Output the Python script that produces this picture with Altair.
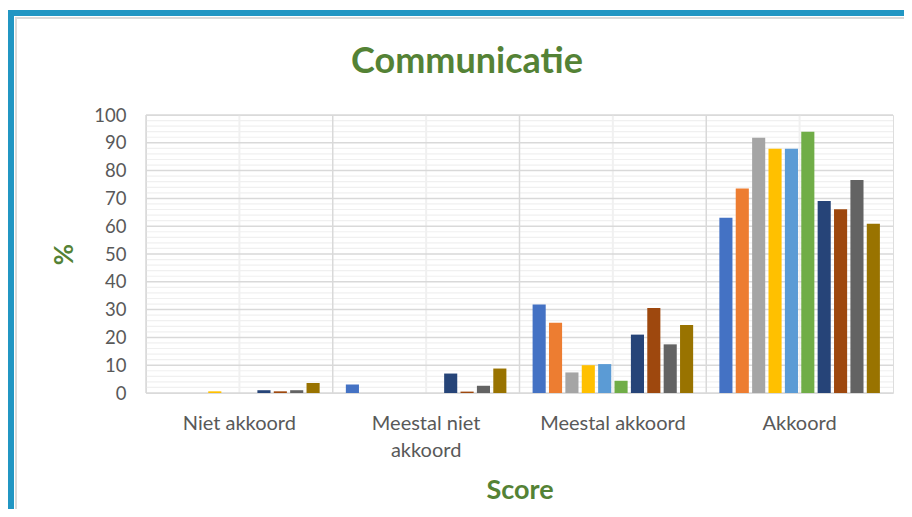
import altair as alt
import pandas as pd

categories = ["Niet akkoord", "Meestal niet akkoord", "Meestal akkoord", "Akkoord"]
series = ["Reeks 1", "Reeks 2", "Reeks 3", "Reeks 4", "Reeks 5",
          "Reeks 6", "Reeks 7", "Reeks 8", "Reeks 9", "Reeks 10"]
colors = ["#4472C4", "#ED7D31", "#A5A5A5", "#FFC000", "#5B9BD5",
          "#70AD47", "#264478", "#9E480E", "#636363", "#997300"]

niet_akkoord = [0, 0, 0, 0.6, 0, 0, 1.0, 0.6, 1.0, 3.6]
meestal_niet_akkoord = [3.1, 0, 0, 0, 0, 0, 7.0, 0.5, 2.6, 8.8]
meestal_akkoord = [31.8, 25.3, 7.4, 10.0, 10.4, 4.4, 21.0, 30.6, 17.5, 24.5]
akkoord = [63.0, 73.6, 91.8, 87.9, 87.9, 94.0, 69.1, 66.1, 76.6, 60.9]

y_ticks = [0, 10, 20, 30, 40, 50, 60, 70, 80, 90, 100]
y_minor = [v for v in range(2, 100, 2) if v % 10 != 0]
chart_title = "Communicatie"

rows = []
for cat, vals in zip(categories, [niet_akkoord, meestal_niet_akkoord, meestal_akkoord, akkoord]):
    for s, v in zip(series, vals):
        rows.append({"cat": cat, "serie": s, "val": v})
df = pd.DataFrame(rows)
cat_df = pd.DataFrame({"cat": categories})
major_df = pd.DataFrame({"y": y_ticks})
minor_df = pd.DataFrame({"y": y_minor})

FONT = "Lato"
GREEN = "#548235"
GRID = "#D9D9D9"
LIGHT = "#F0F0F0"

xscale = alt.Scale(domain=categories, paddingInner=0, paddingOuter=0)
yscale = alt.Scale(domain=[0, 100], nice=False)

x_axis = alt.Axis(
    title="Score", titleFontSize=27, titleFont=FONT, titleFontWeight="bold",
    titleColor=GREEN, titlePadding=17,
    labelFontSize=20, labelFont=FONT, labelColor="#595959", labelAngle=0,
    labelPadding=20, labelLineHeight=27, ticks=False, domain=False, grid=False,
    labelExpr="datum.label == 'Meestal niet akkoord' ? ['Meestal niet', 'akkoord'] : datum.label",
)
y_axis = alt.Axis(
    title="%", titleFontSize=26, titleFont=FONT, titleFontWeight="bold",
    titleColor=GREEN, titlePadding=16,
    values=y_ticks, labelFontSize=18.5, labelFont=FONT, labelColor="#595959",
    labelPadding=20, ticks=False, domain=False, grid=False, labelOverlap=False,
)

minor = alt.Chart(minor_df).mark_rule(color=LIGHT, strokeWidth=1.2).encode(
    y=alt.Y("y:Q", scale=yscale, axis=y_axis)
)
center_v = alt.Chart(cat_df).mark_rule(color=LIGHT, strokeWidth=2).encode(
    x=alt.X("cat:N", scale=xscale, axis=x_axis, bandPosition=0.5)
)
major = alt.Chart(major_df).mark_rule(color=GRID, strokeWidth=1.5).encode(
    y=alt.Y("y:Q", scale=yscale, axis=y_axis)
)
bound_v = alt.Chart(cat_df).mark_rule(color=GRID, strokeWidth=1.5).encode(
    x=alt.X("cat:N", scale=xscale, axis=x_axis, bandPosition=0)
)
bars = alt.Chart(df).mark_bar().encode(
    x=alt.X("cat:N", scale=xscale, sort=categories, axis=x_axis),
    xOffset=alt.XOffset("serie:N", sort=series,
                        scale=alt.Scale(domain=series, paddingInner=0.2, paddingOuter=0.8)),
    y=alt.Y("val:Q", scale=yscale, axis=y_axis),
    color=alt.Color("serie:N", scale=alt.Scale(domain=series, range=colors), legend=None),
)

frame_df = pd.DataFrame({"k": [0]})
title_df = pd.DataFrame({"t": [chart_title]})
title = alt.Chart(title_df).mark_text(
    font=FONT, fontSize=36, fontWeight="bold", color=GREEN, align="center", baseline="middle"
).encode(text="t:N", x=alt.value(321), y=alt.value(-53))

shadow = alt.Chart(frame_df).mark_rect(filled=False, stroke="#DADADA", strokeWidth=2).encode(
    x=alt.value(-130), x2=alt.value(900), y=alt.value(-97), y2=alt.value(440)
)
frame = alt.Chart(frame_df).mark_rect(filled=False, stroke="#2196C3", strokeWidth=6).encode(
    x=alt.value(-135), x2=alt.value(900), y=alt.value(-102), y2=alt.value(440)
)

chart = alt.layer(minor, center_v, major, bound_v, bars, title, shadow, frame).properties(
    width=747, height=278,
    autosize=alt.AutoSizeParams(type="none"),
    padding={"left": 138, "top": 107, "right": 11, "bottom": 116},
).configure_view(stroke=GRID, strokeWidth=1.5).configure(background="white")

chart.save("out.html", embed_options={"renderer": "svg", "actions": False})
